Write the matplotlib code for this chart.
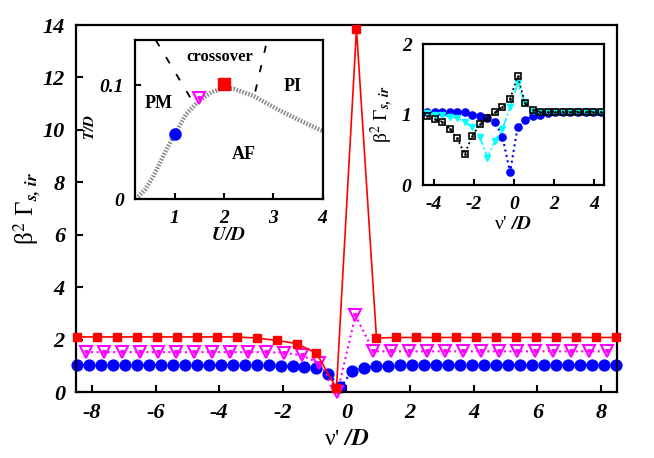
import matplotlib
matplotlib.use("Agg")
import matplotlib.pyplot as plt
import numpy as np

plt.rcParams['font.family'] = 'Liberation Serif'
plt.rcParams['mathtext.fontset'] = 'stix'
plt.rcParams['axes.unicode_minus'] = False

# fermionic Matsubara grids nu' = (2n+1) pi T
T_red = 0.1
T_mag = 0.09
T_blue = 0.06
nu_red = np.pi * T_red * np.arange(-27, 28, 2)
nu_mag = np.pi * T_mag * np.arange(-29, 30, 2)
nu_blue = np.pi * T_blue * np.arange(-45, 46, 2)

# main panel values
g_red = [2.1] * 9 + [2.06, 1.97, 1.85, 1.48, 0.14] + [13.85, 2.06] + [2.08] * 12
g_mag = [1.52] * 11 + [1.5, 1.4, 1.1, 0.0] + [2.92] + [1.55] * 14
g_blue = [1.03] * 17 + [1.0, 0.98, 0.95, 0.9, 0.68, 0.18] + [0.82, 0.92, 0.98, 1.0, 1.02] + [1.03] * 18

# right inset (same grid as blue)
nu_in = np.pi * T_blue * np.arange(-23, 24, 2)
g_black = [0.98, 0.93, 0.9, 0.8, 0.66, 0.44, 0.7, 0.86, 0.95, 1.03, 1.11, 1.22,
           1.54, 1.16, 1.07] + [1.04] * 9
g_cyan = [1.02, 1.0, 0.99, 0.97, 0.95, 0.9, 0.82, 0.68, 0.39, 0.62, 0.8, 1.1,
          1.44, 1.16, 1.05] + [1.03] * 9

# left inset: phase diagram
U_line = [0.22, 0.4, 0.56, 0.83, 1.0, 1.24, 1.51, 1.75, 2.0, 2.2, 2.59, 3.13, 3.5, 3.94, 4.0]
T_line = [0.0, 0.008, 0.019, 0.043, 0.057, 0.075, 0.087, 0.094, 0.098, 0.097, 0.091, 0.078, 0.07, 0.061, 0.06]
U_pts = [1.0, 1.5, 2.0]
T_pts = [0.057, 0.089, 0.101]
cross1_U = [0.62, 1.38]
cross1_T = [0.14, 0.085]
cross2_U = [2.85, 2.6]
cross2_T = [0.135, 0.088]


def style_ticks(ax, size):
    for lab in ax.get_xticklabels() + ax.get_yticklabels():
        lab.set_fontweight('bold')
        lab.set_fontstyle('italic')
        lab.set_fontsize(size)


fig = plt.figure(figsize=(6.54, 4.58), dpi=100)

ax = fig.add_axes([0.1162, 0.1441, 0.8272, 0.8013])
ax.plot(nu_red, g_red, '-', color='red', lw=1.2, marker='s', ms=6, mfc='red', mec='red', clip_on=False, zorder=4)
ax.plot(nu_mag, g_mag, ':', color='magenta', lw=1.5, marker='v', ms=8, mfc='none', mec='magenta', mew=1.5, clip_on=False, zorder=3)
ax.plot(nu_mag, g_mag, ls='none', marker='v', ms=2.5, color='magenta', clip_on=False, zorder=3)
ax.plot(nu_blue, g_blue, ':', color='blue', lw=1.5, marker='o', ms=7.8, mfc='blue', mec='blue', clip_on=False, zorder=2)
ax.set_xlim(-8.5, 8.5)
ax.set_ylim(0, 14)
ax.set_xticks(np.arange(-8, 9, 2))
ax.set_yticks(np.arange(0, 15, 2))
ax.tick_params(direction='in', length=5, width=1.5, top=False, right=False, pad=8)
style_ticks(ax, 16)
for s in ax.spines.values():
    s.set_linewidth(1.6)
ax.set_xlabel("ν' $\\mathbfit{/D}$", fontsize=17, labelpad=4)
ax.set_ylabel("β$^{2}$ Γ$_{\\mathbfit{s,\\,ir}}$", fontsize=18)
ax.yaxis.set_label_coords(-0.063, 0.5)

# phase diagram inset
ax1 = fig.add_axes([0.2064, 0.5655, 0.287, 0.347])
ax1.plot(U_line, T_line, color='#888888', lw=3.2, ls=(0, (0.35, 0.35)), zorder=2)
ax1.plot(cross1_U, cross1_T, color='black', lw=1.3, ls=(0, (4, 7)))
ax1.plot(cross2_U, cross2_T, color='black', lw=1.3, ls=(0, (4, 7)))
ax1.plot(U_pts[0], T_pts[0], 'o', color='blue', ms=8, zorder=5)
ax1.plot(U_pts[1], T_pts[1], 'v', mfc='none', mec='magenta', mew=1.5, ms=9, zorder=5)
ax1.plot(U_pts[1], T_pts[1], 'v', color='magenta', ms=2.5, zorder=5)
ax1.plot(U_pts[2], T_pts[2], 's', color='red', ms=8, zorder=5)
ax1.text(1.92, 0.125, 'crossover', fontsize=12, fontweight='bold', ha='center', va='center')
ax1.text(0.68, 0.084, 'PM', fontsize=13, fontweight='bold', ha='center', va='center')
ax1.text(3.39, 0.099, 'PI', fontsize=13, fontweight='bold', ha='center', va='center')
ax1.text(2.4, 0.039, 'AF', fontsize=13, fontweight='bold', ha='center', va='center')
ax1.set_xlim(0.2, 4)
ax1.set_ylim(0, 0.14)
ax1.set_xticks([1, 2, 3, 4])
ax1.set_yticks([0, 0.1])
ax1.set_yticklabels(['0', '0.1'])
ax1.tick_params(direction='in', length=4, width=1.5, pad=8)
style_ticks(ax1, 14)
for s in ax1.spines.values():
    s.set_linewidth(1.6)
ax1.set_xlabel(r"$\mathbfit{U/D}$", fontsize=14, labelpad=0)
ax1.set_ylabel(r"$\mathbfit{T/D}$", fontsize=11, labelpad=2)
ax1.yaxis.set_label_coords(-0.2, 0.45)

# right inset
ax2 = fig.add_axes([0.6463, 0.596, 0.2772, 0.3079])
inside = np.abs(nu_blue) < 4.5
ax2.plot(nu_blue[inside], np.array(g_blue)[inside], ':', color='blue', lw=1.5, marker='o', ms=5.2, zorder=2)
ax2.plot(nu_in, g_cyan, '-.', color='cyan', lw=1.3, marker='v', ms=5, mfc='cyan', mec='cyan', zorder=3)
ax2.plot(nu_in, g_black, ':', color='black', lw=1.3, marker='s', ms=5, mfc='none', mec='black', mew=1.2, zorder=4)
ax2.plot(nu_in, g_black, ls='none', marker='.', ms=2, color='black', zorder=4)
ax2.set_xlim(-4.55, 4.5)
ax2.set_ylim(0, 2)
ax2.set_xticks([-4, -2, 0, 2, 4])
ax2.set_yticks([0, 1, 2])
ax2.tick_params(axis='x', direction='in', length=4, width=1.5, pad=8)
ax2.tick_params(axis='y', direction='in', length=0, pad=8)
style_ticks(ax2, 14)
for s in ax2.spines.values():
    s.set_linewidth(1.6)
ax2.set_xlabel("ν' $\\mathbfit{/D}$", fontsize=14, labelpad=2)
ax2.set_ylabel("β$^{2}$ Γ$_{\\mathbfit{s,\\,ir}}$", fontsize=14, labelpad=4)

fig.savefig('out.png', dpi=100)
